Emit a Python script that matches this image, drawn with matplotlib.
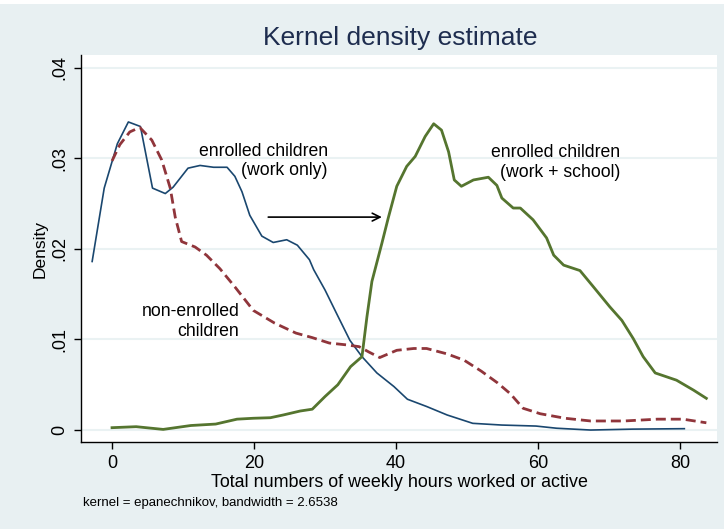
import matplotlib
matplotlib.use("Agg")
import matplotlib.pyplot as plt
from matplotlib.patches import Rectangle

plt.rcParams["font.family"] = ["Liberation Sans", "DejaVu Sans"]

# Enrolled children (work only)
work_x = [-2.8, -1.1, 0.75, 2.3, 4.0, 5.7, 7.5, 8.6, 10.7, 12.4, 14.3, 16.2, 17.3, 18.3, 19.4,
          21.1, 22.7, 24.6, 26.1, 27.8, 28.4, 30.0, 31.6, 33.5, 35.2, 37.3, 39.7, 41.6, 44.3,
          47.2, 50.8, 54.9, 59.7, 62.6, 67.4, 73.3, 80.6]
work_y = [0.0186, 0.0267, 0.0316, 0.0340, 0.0335, 0.0267, 0.0261, 0.0268, 0.0289, 0.0292, 0.0290,
          0.0290, 0.0280, 0.0263, 0.0237, 0.0214, 0.0207, 0.0210, 0.0204, 0.0188, 0.0177, 0.01545,
          0.0129, 0.0099, 0.0081, 0.0063, 0.0048, 0.0034, 0.0026, 0.00166, 0.00074, 0.00055,
          0.00044, 0.0002, 0.0, 0.0001, 0.00015]

# Non-enrolled children
non_x = [0.0, 1.1, 2.5, 3.9, 5.6, 7.0, 8.2, 8.9, 9.8, 11.7, 13.3, 15.2, 17.3, 18.5, 19.9, 22.9,
         25.9, 28.2, 30.6, 33.0, 34.8, 36.2, 37.7, 40.1, 42.5, 44.3, 47.2, 49.6, 52.0, 54.3,
         56.1, 57.9, 60.3, 63.8, 67.4, 72.1, 76.8, 80.4, 83.7]
non_y = [0.0297, 0.0315, 0.0329, 0.0334, 0.0320, 0.0298, 0.0267, 0.0235, 0.0208, 0.0202, 0.0193,
         0.0178, 0.0158, 0.0146, 0.0132, 0.0118, 0.0107, 0.0102, 0.0096, 0.0094, 0.0092, 0.0086,
         0.0080, 0.0088, 0.0090, 0.0090, 0.0084, 0.0077, 0.0065, 0.0052, 0.0040, 0.0024, 0.0018,
         0.0013, 0.0010, 0.0010, 0.0012, 0.0012, 0.0008]

# Enrolled children (work + school)
sch_x = [0.0, 3.4, 7.2, 11.1, 14.6, 17.6, 19.9, 22.3, 24.1, 26.5, 28.2, 30.0, 31.8, 33.6, 35.2,
         35.9, 36.6, 38.0, 38.9, 40.1, 41.5, 42.7, 44.1, 45.3, 46.4, 47.4, 48.2, 49.2, 50.9,
         53.0, 54.2, 54.9, 56.5, 57.5, 59.3, 61.2, 62.2, 63.6, 65.9, 67.8, 70.1, 71.8, 73.4,
         74.8, 76.5, 79.5, 81.9, 83.7]
sch_y = [0.00026, 0.00037, 0.00007, 0.0005, 0.00066, 0.0012, 0.0013, 0.00136, 0.00166, 0.0021,
         0.0023, 0.0037, 0.0050, 0.0070, 0.0081, 0.0125, 0.0164, 0.0206, 0.0234, 0.0269, 0.0291,
         0.0302, 0.0324, 0.0338, 0.0331, 0.0307, 0.0276, 0.0269, 0.0276, 0.0279, 0.0270, 0.0256,
         0.0245, 0.0245, 0.0232, 0.0212, 0.0193, 0.0182, 0.0176, 0.0158, 0.0136, 0.0121, 0.0101,
         0.0081, 0.0063, 0.0055, 0.0044, 0.0035]

x_ticks = [0, 20, 40, 60, 80]
y_ticks = [0.0, 0.01, 0.02, 0.03, 0.04]
y_tick_labels = ["0", ".01", ".02", ".03", ".04"]

BG = "#e8f0f2"
fig = plt.figure(figsize=(7.24, 5.29), dpi=100, facecolor=BG)
fig.patches.append(Rectangle((0, 1 - 4 / 529), 1, 4 / 529, transform=fig.transFigure,
                             facecolor="white", edgecolor="none", zorder=0))
ax = fig.add_axes([81 / 724, 87 / 529, 636 / 724, 387 / 529])
ax.set_facecolor("white")

for y in y_ticks:
    ax.axhline(y, color="#eaf2f3", lw=1.5, zorder=0)

ax.plot(work_x, work_y, color="#1a476f", lw=1.2)
ax.plot(non_x, non_y, color="#90353b", lw=2.0, dashes=(3.6, 1.8))
ax.plot(sch_x, sch_y, color="#55752f", lw=2.0)

ax.set_xlim(-4.37, 85.2)
ax.set_ylim(-0.00132, 0.04139)
ax.set_xticks(x_ticks)
ax.set_xticklabels([str(v) for v in x_ticks])
ax.set_yticks(y_ticks)
ax.set_yticklabels(y_tick_labels, rotation=90, va="center")
ax.tick_params(axis="both", direction="out", length=5, width=1, labelsize=13, colors="black")
ax.tick_params(axis="x", pad=4)
ax.tick_params(axis="y", pad=4)
for s in ["top", "right"]:
    ax.spines[s].set_visible(False)
for s in ["left", "bottom"]:
    ax.spines[s].set_color("black")
    ax.spines[s].set_linewidth(1.0)

ax.set_xlabel("Total numbers of weekly hours worked or active", fontsize=12.85, labelpad=2)
ax.set_ylabel("Density", fontsize=12.5, labelpad=3)

fig.text(400 / 724, 1 - 38 / 529, "Kernel density estimate", ha="center", va="center",
         fontsize=19, color="#1e2d4f")
fig.text(83 / 724, 1 - 503 / 529, "kernel = epanechnikov, bandwidth = 2.6538",
         ha="left", va="center", fontsize=9.55, color="black")

ax.text(30.4, 0.02967, "enrolled children\n(work only)", ha="right", va="center",
        fontsize=12.7, multialignment="right")
ax.text(71.55, 0.02955, "enrolled children\n(work + school)", ha="right", va="center",
        fontsize=12.7, multialignment="right")
ax.text(17.95, 0.01195, "non-enrolled\nchildren", ha="right", va="center",
        fontsize=12.7, multialignment="right")

ax.annotate("", xy=(38.0, 0.0235), xytext=(22.0, 0.0235),
            arrowprops=dict(arrowstyle="->", color="black", lw=1.2,
                            mutation_scale=14, shrinkA=0, shrinkB=0))

fig.savefig("out.png", dpi=100, facecolor=BG)
